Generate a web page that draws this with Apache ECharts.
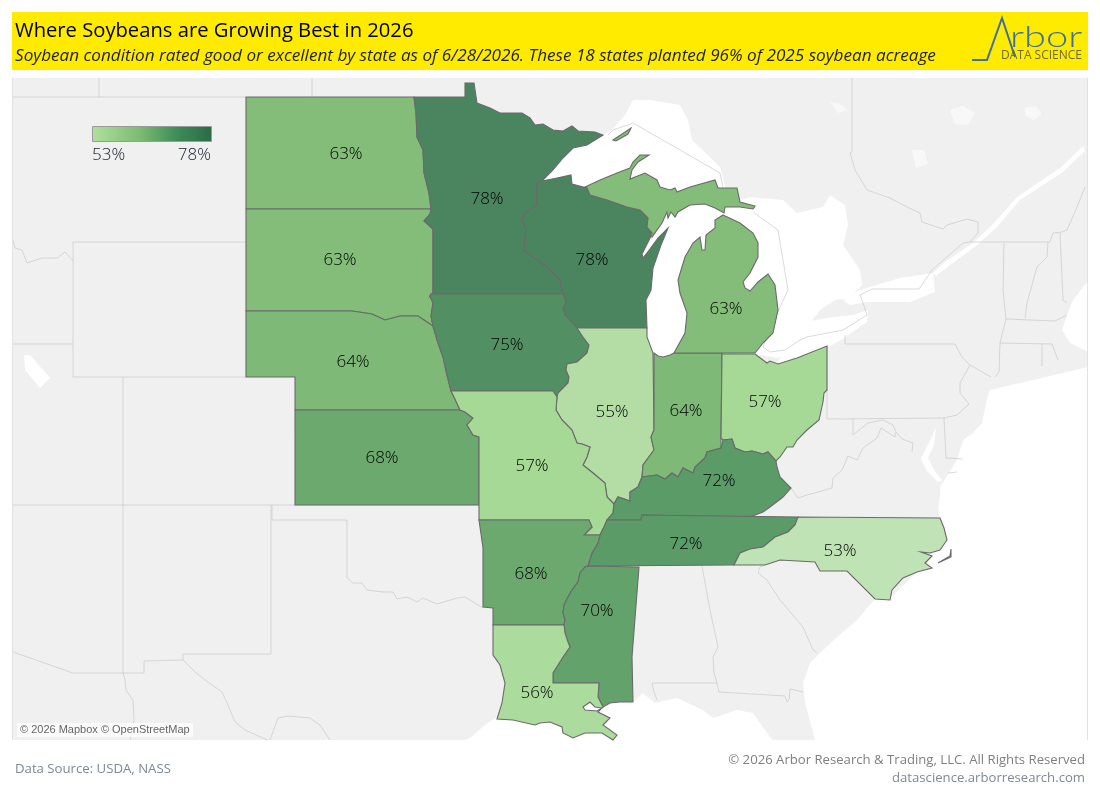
<!DOCTYPE html>
<html>
<head>
<meta charset="utf-8">
<title>Where Soybeans are Growing Best in 2026</title>
<style>html,body{margin:0;padding:0;background:#fff}#c{width:1100px;height:800px}</style>
<script src="https://cdn.jsdelivr.net/npm/echarts@6/dist/echarts.min.js"></script>
</head>
<body>
<div id="c"></div>
<script>
// ---------- values ----------
const stateNames = ['North Dakota','South Dakota','Nebraska','Kansas','Minnesota','Wisconsin','Iowa','Illinois','Indiana','Ohio','Michigan','Missouri','Kentucky','Tennessee','Arkansas','Mississippi','Louisiana','North Carolina'];
const stateValues = [63,63,64,68,78,78,75,55,64,57,63,57,72,72,68,70,56,53];
const legendTicks = ['53%','78%'];
const titleText = 'Where Soybeans are Growing Best in 2026';
const subtitleText = 'Soybean condition rated good or excellent by state as of 6/28/2026. These 18 states planted 96% of 2025 soybean acreage';

// ---------- map geometry, in a projected map grid (ECharts scales it through geo) ----------
const mapBounds = [[12,78],[1088,740]];
const outlines = {
 'North Dakota':[[[246,97],[414,97],[416,113],[417,137],[423,150],[424,173],[429,193],[431,209],[246,209]]],
 'South Dakota':[[[246,209],[431,209],[430,214],[424,221],[433,229],[433,293],[430,296],[433,303],[431,316],[433,326],[418,316],[400,316],[385,320],[372,314],[352,311],[246,311]]],
 'Nebraska':[[[246,311],[352,311],[372,314],[385,320],[400,316],[418,316],[433,326],[438,343],[443,357],[447,375],[451,391],[454,397],[460,410],[295,410],[295,377],[246,377]]],
 'Kansas':[[[295,410],[460,410],[465,412],[473,418],[467,425],[473,435],[479,437],[479,505],[295,505]]],
 'Minnesota':[[[414,97],[465,97],[465,83],[474,83],[477,103],[490,108],[500,113],[512,113],[522,113],[530,118],[535,125],[543,124],[553,130],[563,131],[572,126],[578,131],[595,132],[603,135],[587,145],[573,148],[563,158],[553,170],[542,181],[537,183],[537,205],[525,213],[522,220],[526,228],[524,250],[533,257],[547,267],[560,280],[563,294],[431,294],[430,296],[433,293],[433,229],[424,221],[430,214],[431,209],[429,193],[424,173],[423,150],[417,137],[416,113]]],
 'Wisconsin':[[[537,183],[542,181],[557,178],[571,175],[572,184],[587,188],[590,195],[607,200],[627,207],[640,210],[648,218],[647,227],[652,233],[650,238],[642,254],[643,258],[650,249],[658,238],[668,228],[661,245],[653,268],[651,290],[646,300],[647,328],[577,328],[565,315],[563,308],[566,302],[563,294],[560,280],[547,267],[533,257],[524,250],[526,228],[522,220],[525,213],[537,205]]],
 'Iowa':[[[431,294],[563,294],[566,302],[563,308],[565,315],[577,328],[583,337],[589,345],[587,353],[577,362],[567,364],[566,370],[569,377],[568,383],[558,393],[557,397],[553,391],[451,391],[447,375],[443,357],[438,343],[433,326],[431,316],[433,303],[430,296]]],
 'Illinois':[[[577,328],[647,328],[647,337],[653,353],[654,430],[651,437],[654,450],[643,465],[642,477],[638,487],[630,492],[630,501],[618,497],[614,504],[607,497],[605,483],[593,473],[583,465],[587,457],[590,447],[582,444],[577,443],[572,430],[562,420],[556,410],[557,397],[558,393],[568,383],[569,377],[566,370],[567,364],[577,362],[587,353],[589,345],[583,337]]],
 'Indiana':[[[654,353],[658,356],[663,357],[670,355],[674,353],[722,353],[721,438],[721,448],[707,452],[705,458],[695,467],[693,473],[683,468],[678,477],[672,473],[665,479],[657,475],[642,477],[643,465],[654,450],[651,437],[654,430]]],
 'Ohio':[[[722,354],[755,354],[767,363],[770,361],[778,364],[797,358],[827,346],[827,390],[824,393],[823,402],[819,420],[807,430],[797,440],[793,447],[787,447],[780,457],[776,461],[768,452],[763,454],[752,451],[745,452],[735,448],[732,439],[723,440],[721,438]]],
 'Michigan':[
  [[585,187],[600,180],[617,173],[630,168],[633,162],[640,155],[649,155],[638,162],[632,170],[630,179],[645,173],[657,180],[660,187],[670,190],[675,188],[677,192],[690,187],[715,180],[718,188],[737,188],[740,202],[755,206],[753,209],[740,207],[725,207],[724,213],[715,208],[705,204],[690,205],[678,212],[675,217],[671,212],[668,218],[667,212],[662,223],[652,237],[650,232],[652,233],[647,227],[648,218],[640,210],[627,207],[607,200],[590,195],[587,188]],
  [[723,215],[740,223],[753,233],[758,243],[758,257],[750,273],[743,282],[745,288],[750,291],[758,282],[768,274],[775,285],[778,310],[773,333],[763,343],[755,353],[722,353],[674,353],[685,333],[687,313],[680,293],[678,280],[685,257],[693,243],[700,237],[702,250],[705,250],[706,235],[715,228],[715,220]],
  [[613,140],[631,128],[628,134],[616,141]]],
 'Missouri':[[[451,391],[553,391],[557,397],[556,410],[562,420],[572,430],[577,443],[582,444],[590,447],[587,457],[583,465],[593,473],[605,483],[607,497],[614,504],[613,513],[607,520],[604,527],[600,535],[584,535],[592,527],[589,520],[479,520],[479,437],[473,435],[467,425],[473,418],[465,412],[460,410],[454,397]]],
 'Kentucky':[[[614,504],[618,497],[630,501],[630,492],[638,487],[642,477],[657,475],[665,479],[672,473],[678,477],[683,468],[693,473],[695,467],[705,458],[707,452],[721,448],[723,440],[732,439],[735,448],[745,452],[752,451],[763,454],[768,452],[776,461],[777,467],[780,477],[791,488],[783,497],[770,507],[763,512],[750,517],[642,515],[641,520],[607,520],[613,513]]],
 'Tennessee':[[[607,520],[641,520],[642,515],[798,517],[795,525],[788,532],[775,537],[763,547],[750,549],[740,553],[734,565],[588,566],[592,553],[598,543],[600,535],[604,527]]],
 'Arkansas':[[[479,520],[589,520],[592,527],[584,535],[600,535],[598,543],[592,553],[588,566],[585,567],[580,573],[578,582],[572,590],[568,597],[564,605],[563,613],[565,620],[564,625],[493,625],[493,608],[483,607],[483,548]]],
 'Mississippi':[[[588,566],[639,567],[632,657],[633,702],[620,702],[610,703],[603,707],[598,697],[599,683],[553,683],[553,673],[558,665],[563,657],[570,647],[568,642],[565,633],[564,625],[565,620],[563,613],[564,605],[568,597],[572,590],[578,582],[580,573],[585,567]]],
 'Louisiana':[[[493,625],[564,625],[565,633],[568,642],[570,647],[563,657],[558,665],[553,673],[553,683],[599,683],[598,697],[603,707],[598,712],[610,718],[603,725],[617,735],[613,740],[602,733],[585,733],[573,738],[563,733],[562,727],[550,722],[540,723],[535,725],[513,720],[497,719],[502,703],[505,683],[500,665],[493,655]],[[583,707],[585,710],[597,711],[602,708],[595,707],[590,702]]],
 'North Carolina':[
  [[798,517],[940,518],[944,528],[947,540],[940,550],[930,553],[921,552],[932,556],[925,563],[932,568],[917,572],[903,578],[892,590],[890,600],[875,599],[847,571],[820,571],[815,562],[780,560],[765,565],[734,565],[740,553],[750,549],[763,547],[775,537],[788,532],[795,525]],
  [[951,549],[951,557],[938,563],[950,556]]]
};
const labelAnchors = {
 'North Dakota':[346,154],'South Dakota':[340,260],'Nebraska':[353,362],'Kansas':[382,458],'Minnesota':[487,199],'Wisconsin':[592,260],'Iowa':[507,345],'Illinois':[612,412],'Indiana':[686,411],'Ohio':[765,402],'Michigan':[726,309],'Missouri':[532,466],'Kentucky':[719,481],'Tennessee':[686,544],'Arkansas':[531,574],'Mississippi':[597,611],'Louisiana':[537,693],'North Carolina':[840,551]
};
const water = [
 [[603,135],[612,130],[625,115],[633,100],[650,100],[680,105],[688,120],[692,140],[720,167],[725,185],[727,190],[660,190],[570,190],[540,182],[570,150]],
 [[642,257],[667,212],[705,200],[724,205],[750,197],[783,200],[797,213],[823,207],[830,195],[845,205],[848,225],[843,245],[860,270],[862,285],[850,298],[835,300],[820,310],[805,330],[800,340],[790,352],[778,358],[755,354],[700,350],[663,357],[653,353],[647,337],[646,300],[651,270]],
 [[778,364],[782,352],[800,323],[833,317],[853,315],[868,310],[867,322],[843,339],[827,348],[797,360]],
 [[843,300],[860,290],[900,278],[933,273],[935,292],[910,302],[867,302],[850,305]],
 [[933,273],[945,262],[970,245],[973,243],[993,224],[1017,197],[1060,168],[1083,146],[1085,151],[1063,172],[1020,200],[997,227],[976,246],[950,265],[936,276]],
 [[465,740],[470,738],[485,725],[497,717],[540,715],[610,700],[633,702],[643,693],[655,703],[677,698],[703,710],[713,718],[737,710],[753,713],[770,737],[773,740]],
 [[815,740],[805,703],[803,683],[810,663],[820,653],[837,637],[857,620],[868,607],[875,599],[890,598],[930,560],[940,520],[938,507],[940,497],[940,487],[957,460],[963,440],[973,433],[982,423],[987,398],[990,390],[1033,380],[1088,367],[1088,740]],
 [[1088,281],[1073,300],[1067,315],[1062,330],[1070,343],[1088,352]],
 [[936,428],[934,445],[928,458],[934,470],[942,480],[938,482],[926,470],[921,458],[929,443]],
 [[24,355],[30,355],[50,378],[40,388],[25,370]]
];
const smallLakes = [
 [[950,110],[963,106],[975,113],[968,125],[955,124]],
 [[1025,108],[1036,106],[1042,114],[1034,120],[1026,116]],
 [[912,150],[924,150],[928,164],[916,168]],
 [[830,102],[840,104],[848,110],[838,113]]
];
const borderLines = [
 [[13,97],[246,97]],[[99,78],[99,97]],[[312,78],[312,97]],
 [[852,78],[852,152],[850,153],[855,170],[867,190],[890,198],[907,207],[920,213],[922,222],[943,229],[947,225],[967,219],[978,222],[978,233],[970,242]],
 [[73,377],[73,242],[246,242]],[[73,377],[246,377]],[[13,344],[73,344]],
 [[123,377],[123,673]],[[13,505],[479,505]],
 [[13,240],[15,248],[22,250],[27,263],[42,258],[57,258],[65,252],[73,261]],
 [[272,505],[272,520],[347,520],[347,578],[353,583],[362,583],[367,590],[383,592],[393,592],[397,599],[407,597],[417,602],[423,598],[437,604],[457,598],[465,597],[483,608]],
 [[271,505],[271,654],[183,654],[183,660],[144,661],[144,673],[73,673],[13,652]],
 [[123,673],[125,680],[126,690],[133,700],[134,720],[130,740]],
 [[183,660],[195,672],[205,680],[222,692],[228,705],[235,722],[245,730],[258,736],[268,740]],
 [[270,740],[278,718],[288,716],[310,718],[320,725],[330,740]],
 [[702,566],[710,610],[718,647],[713,657],[714,673],[717,683],[719,692],[785,696],[787,702],[789,700],[790,689],[803,692]],
 [[652,683],[717,683]],[[652,683],[654,692],[657,700]],
 [[765,565],[760,567],[758,573],[767,580],[780,600],[803,627],[813,650],[817,653]],
 [[791,488],[798,498],[807,495],[818,492],[832,488],[833,478],[842,470],[848,456],[857,460],[863,448],[877,438],[881,428],[895,437],[896,432]],
 [[853,419],[853,435],[868,423],[883,420],[893,425],[896,432],[902,439],[913,443],[912,452]],
 [[827,346],[827,419],[944,418]],
 [[845,335],[845,344],[955,344],[962,357],[970,365],[960,383],[960,393],[969,404],[957,415],[944,418],[946,458],[963,459]],
 [[948,473],[957,472]],
 [[970,365],[991,377]],[[1004,243],[1003,290],[1006,319],[1000,343],[999,372],[995,377]],
 [[1000,343],[1052,344],[1058,360]],[[1042,344],[1042,366]],
 [[1006,319],[1055,321],[1067,315]],
 [[1048,242],[1047,257],[1037,267],[1027,303],[1025,318]],
 [[1060,233],[1063,300],[1067,303]],
 [[970,242],[1050,242],[1053,233],[1062,232],[1067,230],[1077,207],[1085,187]],
 [[800,340],[807,337],[843,330],[867,315],[863,303],[860,295],[872,289],[919,289],[932,270],[947,257],[963,243],[970,242]],
 [[608,135],[613,130],[633,123],[720,173],[723,187]],
 [[753,212],[778,230],[788,290],[780,307],[763,347],[770,352],[785,350],[800,340]]
];
const panelEdges = [[[12.5,78],[12.5,740]],[[1087.5,78],[1087.5,740]]];

// ---------- assembling the two map layers ----------
const polygon = (name, rings) => ({type:'Feature', properties:{name}, geometry:{type:'Polygon', coordinates:rings}});
const lineString = (name, coords) => ({type:'Feature',properties:{name},geometry:{type:'LineString',coordinates:coords}});
const baseFeatures = [polygon('land',[[mapBounds[0],[mapBounds[1][0],mapBounds[0][1]],mapBounds[1],[mapBounds[0][0],mapBounds[1][1]]]])]
 .concat(smallLakes.map((r,i)=>polygon('lake'+i,[r])))
 .concat(water.map((r,i)=>polygon('water'+i,[r])))
 .concat(borderLines.map((l,i)=>lineString('line'+i,l)))
 .concat(panelEdges.map((l,i)=>lineString('edge'+i,l)));
const stateFeatures = stateNames.map(n=>{
  const rings = outlines[n];
  const isMulti = n==='Michigan'||n==='North Carolina';
  return {type:'Feature',properties:{name:n,cp:labelAnchors[n]},
    geometry: isMulti ? {type:'MultiPolygon',coordinates:rings.map(r=>[r])} : {type:'Polygon',coordinates:rings}};
});
echarts.registerMap('base',{type:'FeatureCollection',features:baseFeatures});
echarts.registerMap('states',{type:'FeatureCollection',features:stateFeatures});

const identity = {project:p=>[p[0],p[1]],unproject:p=>[p[0],p[1]]};
const layout = {left:mapBounds[0][0],top:mapBounds[0][1],width:mapBounds[1][0]-mapBounds[0][0],height:mapBounds[1][1]-mapBounds[0][1],aspectScale:1,roam:false,silent:true,projection:identity,boundingCoords:mapBounds};
const UI = '"Open Sans", sans-serif';

const chart = echarts.init(document.getElementById('c'),null,{renderer:'canvas'});
chart.setOption({
 animation:false,
 backgroundColor:'#fff',
 title:{text:titleText,left:15,top:21,padding:0,textStyle:{fontFamily:UI,fontSize:20.2,fontWeight:'normal',color:'#000'},z:10},
 geo:Object.assign({},layout,{
  map:'base',z:1,
  itemStyle:{areaColor:'#f0f0f0',borderWidth:0,borderColor:'transparent'},
  emphasis:{disabled:true},select:{disabled:true},label:{show:false},
  regions:water.map((r,i)=>({name:'water'+i,itemStyle:{areaColor:'#fff',borderWidth:0}}))
   .concat(smallLakes.map((r,i)=>({name:'lake'+i,itemStyle:{areaColor:'#f8f8f8',borderWidth:0}})))
   .concat(borderLines.map((l,i)=>({name:'line'+i,itemStyle:{areaColor:'none',borderColor:'#c6c6c6',borderWidth:0.65}})))
   .concat(panelEdges.map((l,i)=>({name:'edge'+i,itemStyle:{areaColor:'none',borderColor:'#e2e2e2',borderWidth:1}})))
 }),
 visualMap:{type:'continuous',show:false,min:53,max:78,seriesIndex:0,
  inRange:{color:['#c0e3b5','#9fd58e','#83bd79','#6ca96e','#569867','#4b8560']}},
 series:[Object.assign({},layout,{
  type:'map',map:'states',z:3,
  itemStyle:{borderColor:'#6a6a6a',borderWidth:1.1,areaColor:'#ddd'},
  emphasis:{disabled:true},select:{disabled:true},
  label:{show:true,formatter:p=>p.value+'%',fontFamily:UI,fontSize:17,fontWeight:300,color:'#000'},
  data:stateNames.map((n,i)=>({name:n,value:stateValues[i]}))
 })],
 graphic:[
  {type:'rect',silent:true,z:-1,shape:{x:12,y:12,width:1076,height:58},style:{fill:'#ffeb00'}},
  {type:'text',silent:true,z:10,x:15,y:48,scaleX:1.07,style:{text:subtitleText,font:'italic 16px '+UI,fill:'#222'}},
  {type:'rect',silent:true,z:10,shape:{x:92.5,y:126.5,width:119,height:15},
   style:{stroke:'#9a9a9a',lineWidth:1,fill:new echarts.graphic.LinearGradient(0,0,1,0,[{offset:0,color:'#b0e0a0'},{offset:0.4,color:'#7dbb72'},{offset:0.7,color:'#3f8d58'},{offset:1,color:'#2a6b45'}])}},
  {type:'text',silent:true,z:10,x:92,y:147,style:{text:legendTicks[0],font:'300 17px '+UI,fill:'#141d2a'}},
  {type:'text',silent:true,z:10,x:211,y:147,style:{text:legendTicks[1],font:'300 17px '+UI,fill:'#141d2a',textAlign:'right'}},
  {type:'rect',silent:true,z:10,shape:{x:17,y:723,width:176,height:14},style:{fill:'rgba(255,255,255,0.75)'}},
  {type:'text',silent:true,z:11,x:20,y:724,style:{text:'© 2026 Mapbox © OpenStreetMap',font:'11px "Liberation Sans", sans-serif',fill:'#666'}},
  {type:'text',silent:true,z:10,x:15,y:763,style:{text:'Data Source: USDA, NASS',font:'13.2px '+UI,fill:'#7d8796'}},
  {type:'text',silent:true,z:10,x:1085,y:754,style:{text:'© 2026 Arbor Research & Trading, LLC. All Rights Reserved',font:'13.15px '+UI,fill:'#7f7f7f',textAlign:'right'}},
  {type:'text',silent:true,z:10,x:1085,y:772,style:{text:'datascience.arborresearch.com',font:'13.15px '+UI,fill:'#7f8894',textAlign:'right'}},
  {type:'polyline',silent:true,z:10,shape:{points:[[972,60],[987,60],[1002,18],[1015,57]]},style:{stroke:'#3f6f9f',lineWidth:2,fill:null}},
  {type:'text',silent:true,z:10,x:1010,y:22,scaleX:1.33,style:{text:'rbor',font:'300 30px Lato, sans-serif',fill:'#3f6f9f'}},
  {type:'text',silent:true,z:10,x:1001,y:50,style:{text:'DATA SCIENCE',font:'12px '+UI,fill:'#6b6b3a'}}
 ]
});
</script>
</body>
</html>
